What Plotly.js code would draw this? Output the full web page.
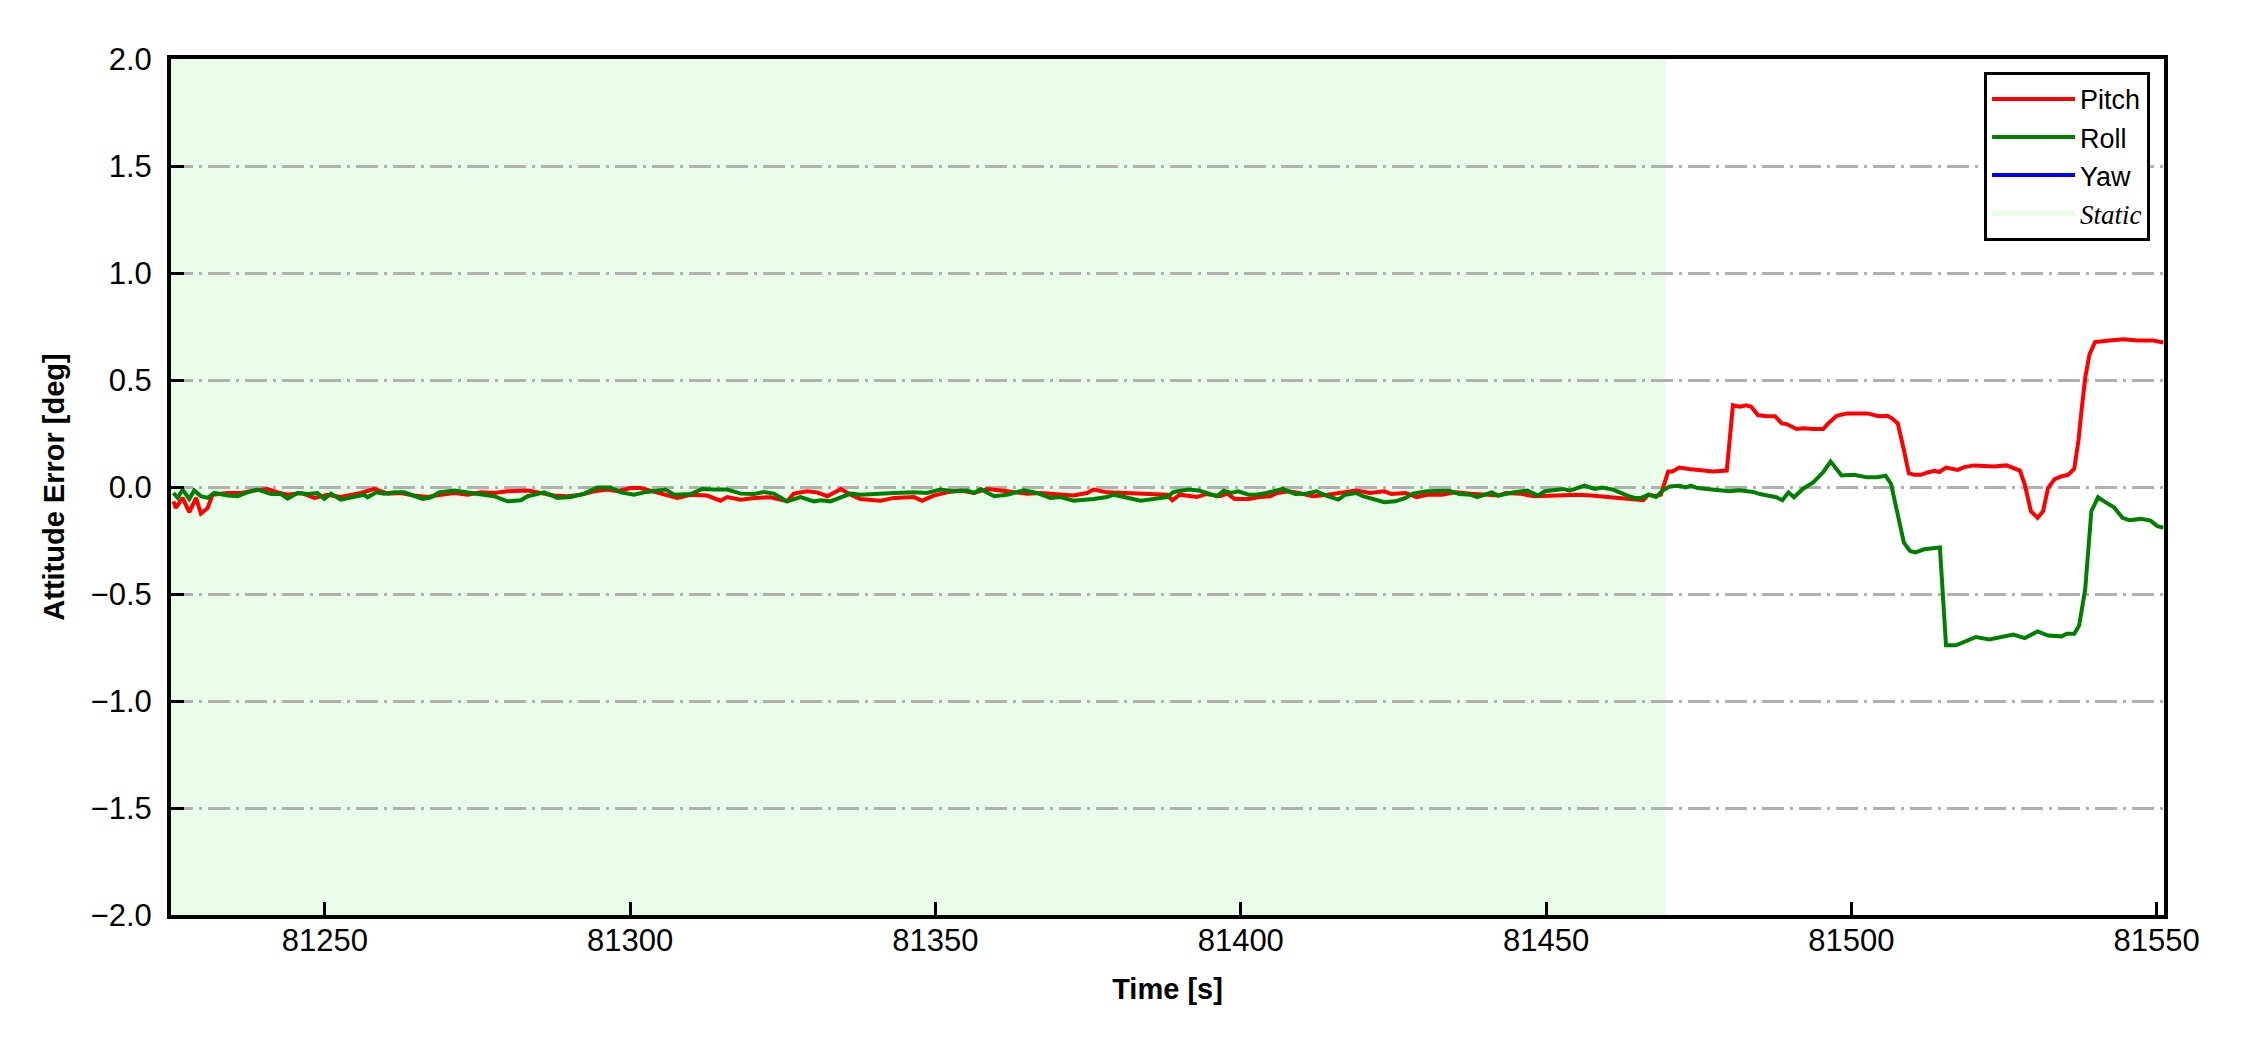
<!DOCTYPE html>
<html>
<head>
<meta charset="utf-8">
<script src="https://cdn.plot.ly/plotly-3.0.1.min.js"></script>
<style>html,body{margin:0;padding:0;background:#fff;}#chart{width:2250px;height:1050px;}</style>
</head>
<body>
<div id="chart"></div>
<script>
// ---- data ----
const pitchTime = [81225.2,81225.6,81226.7,81227.8,81228.9,81229.7,81230.8,81231.6,81234.1,81236.3,81238.4,81240.6,81242.3,81243.9,81246.1,81248.3,81250.4,81252.6,81255.9,81258.1,81260.3,81262.4,81264.6,81266.8,81269.0,81271.2,81273.4,81275.5,81277.7,81279.9,81283.2,81285.4,81287.5,81289.7,81291.9,81294.1,81296.3,81297.9,81300.1,81301.7,
81304.4,81307.7,81309.9,81312.6,81314.8,81315.9,81318.1,81320.3,81323.0,81325.7,81326.8,81329.0,81330.6,81332.3,81334.5,81336.1,81337.7,81341.0,81343.2,81346.5,81347.8,81349.7,81351.9,81354.1,81356.3,81358.5,81360.7,81362.8,81365.0,81367.2,81369.4,81372.6,81374.8,81375.9,81378.1,81380.3,
81382.6,81386.1,81387.9,81388.8,81390.0,81392.8,81394.3,81396.6,81397.8,81399.0,81401.3,81403.1,81404.8,81406.0,81407.8,81409.5,81411.8,81414.2,81416.5,81418.9,81421.2,81423.5,81424.7,81427.0,81428.8,81430.5,81432.9,81435.2,81437.6,81439.9,81442.2,81443.4,81445.7,81448.1,81450.4,81452.8,81455.1,81457.4,81459.8,81462.1,81464.4,81465.9,81466.8,81468.0,81468.8,
81470.0,81470.7,81471.8,81473.4,81475.1,81477.3,81479.6,81480.6,81481.7,81482.8,81483.6,81484.7,81486.1,81487.5,81488.6,81489.4,81491.0,81492.1,81493.8,81495.4,81496.2,81497.6,81499.3,81500.9,81502.6,81504.5,81505.9,81506.7,81507.6,81508.6,81509.4,81510.3,81511.4,81512.5,81513.6,81514.4,81515.5,81517.4,81518.5,81520.1,81522.3,81523.4,81525.4,81526.5,81527.6,81528.4,81529.4,81530.5,81531.4,81532.2,81533.3,81534.4,81535.5,81536.5,81537.2,81537.7,81538.3,81539.0,81539.9,81542.2,81544.6,81546.9,81549.3,81551.1];
const pitchError = [-0.067,-0.098,-0.051,-0.118,-0.051,-0.124,-0.098,-0.036,-0.028,-0.028,-0.016,-0.009,-0.025,-0.036,-0.028,-0.051,-0.036,-0.047,-0.028,-0.009,-0.031,-0.028,-0.040,-0.047,-0.036,-0.028,-0.036,-0.025,-0.028,-0.020,-0.016,-0.028,-0.040,-0.043,-0.036,-0.020,-0.012,-0.020,-0.005,-0.005,
-0.025,-0.051,-0.036,-0.040,-0.064,-0.047,-0.059,-0.051,-0.048,-0.067,-0.031,-0.020,-0.025,-0.043,-0.009,-0.036,-0.056,-0.064,-0.051,-0.047,-0.064,-0.040,-0.025,-0.016,-0.028,-0.009,-0.016,-0.025,-0.031,-0.028,-0.033,-0.040,-0.028,-0.012,-0.025,-0.028,
-0.031,-0.036,-0.036,-0.062,-0.036,-0.047,-0.033,-0.043,-0.031,-0.056,-0.056,-0.047,-0.043,-0.028,-0.020,-0.028,-0.043,-0.036,-0.028,-0.016,-0.028,-0.020,-0.033,-0.028,-0.047,-0.036,-0.036,-0.025,-0.031,-0.036,-0.040,-0.028,-0.031,-0.043,-0.040,-0.036,-0.036,-0.040,-0.047,-0.051,-0.059,-0.062,-0.036,-0.043,-0.036,
0.073,0.073,0.091,0.084,0.080,0.073,0.077,0.382,0.375,0.382,0.375,0.336,0.331,0.331,0.297,0.294,0.271,0.274,0.271,0.271,0.297,0.333,0.344,0.344,0.344,0.331,0.333,0.320,0.297,0.173,0.065,0.057,0.057,0.068,0.076,0.070,0.091,0.080,0.093,0.101,0.096,0.096,0.101,0.088,0.077,0.011,-0.113,-0.144,-0.113,-0.005,0.037,0.050,0.057,0.085,0.220,0.360,0.511,0.620,0.677,0.685,0.690,0.685,0.685,0.675];

const rollTime = [81225.2,81225.9,81226.7,81227.8,81228.6,81229.7,81230.8,81231.9,81234.1,81235.7,81237.3,81239.0,81241.2,81242.8,81243.9,81245.5,81247.2,81248.8,81249.9,81251.0,81252.6,81254.8,81256.4,81257.0,81258.4,81259.7,81261.4,81263.0,81264.6,81266.0,81267.4,81268.7,81271.2,81273.4,81275.5,81277.7,81279.9,81282.1,81283.2,81285.9,81288.1,81290.3,81292.5,81294.6,81296.8,81298.5,81300.6,81302.3,
81305.8,81307.2,81309.9,81311.8,81313.7,81315.9,81318.1,81320.3,81321.9,81323.5,81325.7,81327.9,81330.1,81331.2,81332.8,81334.5,81336.1,81337.7,81339.9,81343.2,81346.5,81348.6,81350.8,81353.0,81355.2,81356.3,81357.4,81359.6,81361.7,81364.5,81366.6,81368.8,81370.5,81372.6,81375.9,81378.1,81379.2,81381.4,81383.6,
81385.0,81386.1,81387.9,81389.0,81391.4,81393.1,81396.1,81397.2,81398.4,81399.6,81401.3,81402.5,81404.2,81406.9,81408.9,81410.7,81412.4,81414.2,81416.0,81417.1,81418.9,81420.0,81423.5,81425.3,81427.0,81428.2,81430.5,81434.1,81435.8,81437.6,81438.7,81441.1,81442.2,81444.6,81446.9,81448.7,81449.8,81452.8,81453.9,81456.3,81458.0,81459.2,81461.0,81463.3,81464.5,81465.6,81466.8,81468.0,81469.1,81470.3,
81471.8,81472.9,81473.7,81474.8,81476.2,81478.4,81480.0,81481.7,81483.9,81485.0,81487.7,81488.7,81489.7,81490.6,81492.1,81493.8,81495.4,81496.6,81498.4,81500.4,81502.6,81504.2,81505.6,81506.5,81508.6,81509.6,81510.5,81511.9,81513.6,81514.5,81515.5,81517.1,81518.5,81520.4,81522.6,81524.5,81526.5,81528.4,81530.5,81532.2,81534.4,81535.3,81536.5,81537.3,81538.3,81539.3,81540.4,81541.4,81543.0,81544.4,81545.5,81547.4,81549.0,81550.1,81551.1];
const rollError = [-0.028,-0.051,-0.012,-0.056,-0.016,-0.043,-0.051,-0.028,-0.040,-0.043,-0.025,-0.012,-0.033,-0.033,-0.054,-0.028,-0.033,-0.028,-0.056,-0.031,-0.059,-0.043,-0.036,-0.048,-0.025,-0.031,-0.025,-0.025,-0.043,-0.056,-0.048,-0.025,-0.017,-0.025,-0.033,-0.043,-0.067,-0.062,-0.043,-0.025,-0.051,-0.047,-0.031,-0.002,-0.002,-0.025,-0.036,-0.025,
-0.012,-0.036,-0.033,-0.009,-0.012,-0.012,-0.031,-0.033,-0.023,-0.031,-0.067,-0.047,-0.067,-0.062,-0.067,-0.047,-0.031,-0.036,-0.031,-0.028,-0.025,-0.028,-0.012,-0.020,-0.016,-0.028,-0.009,-0.043,-0.036,-0.016,-0.028,-0.051,-0.047,-0.064,-0.056,-0.047,-0.036,-0.051,-0.064,
-0.059,-0.056,-0.047,-0.023,-0.012,-0.016,-0.043,-0.017,-0.028,-0.020,-0.036,-0.036,-0.028,-0.009,-0.033,-0.031,-0.020,-0.043,-0.059,-0.036,-0.028,-0.043,-0.071,-0.067,-0.051,-0.031,-0.020,-0.017,-0.033,-0.036,-0.047,-0.025,-0.040,-0.025,-0.017,-0.040,-0.020,-0.009,-0.017,0.006,-0.009,-0.002,-0.012,-0.040,-0.051,-0.051,-0.036,-0.047,-0.016,0.003,
0.006,-0.002,0.006,-0.005,-0.009,-0.012,-0.020,-0.015,-0.023,-0.033,-0.048,-0.062,-0.025,-0.048,-0.008,0.023,0.070,0.119,0.054,0.057,0.045,0.046,0.053,0.014,-0.260,-0.299,-0.306,-0.291,-0.283,-0.283,-0.740,-0.740,-0.724,-0.701,-0.712,-0.701,-0.690,-0.706,-0.675,-0.694,-0.698,-0.686,-0.686,-0.647,-0.477,-0.113,-0.048,-0.067,-0.095,-0.144,-0.155,-0.149,-0.157,-0.183,-0.190];

const yawTime = [null];   // yaw error has no visible samples in the plotted range
const yawError = [null];

const staticStart = 81224.8;
const staticEnd = 81469.6;

const xRange = [81224.8, 81551.2];
const yRange = [-2, 2];
const xTicks = [81250, 81300, 81350, 81400, 81450, 81500, 81550];
const yTicks = [-2.0, -1.5, -1.0, -0.5, 0.0, 0.5, 1.0, 1.5, 2.0];

const seriesNames = ['Pitch', 'Roll', 'Yaw', 'Static'];
const seriesColors = ['#ff0000', '#008000', '#0000ff', '#e9fce9'];

// ---- chart ----
const FONT = 'Liberation Sans, Arial, sans-serif';
const traces = [
  {x: pitchTime, y: pitchError, type: 'scatter', mode: 'lines', name: seriesNames[0],
   line: {color: seriesColors[0], width: 4}},
  {x: rollTime, y: rollError, type: 'scatter', mode: 'lines', name: seriesNames[1],
   line: {color: seriesColors[1], width: 4}},
  {x: yawTime, y: yawError, type: 'scatter', mode: 'lines', name: seriesNames[2],
   line: {color: seriesColors[2], width: 4}},
  {x: [null], y: [null], type: 'scatter', mode: 'none', fill: 'toself',
   fillcolor: seriesColors[3], line: {width: 0},
   name: '<i><span style="font-family:Liberation Serif, Times New Roman, serif">' + seriesNames[3] + '</span></i>'}
];

const layout = {
  width: 2250, height: 1050,
  margin: {l: 171, r: 86, t: 59, b: 135},
  paper_bgcolor: '#ffffff', plot_bgcolor: '#ffffff',
  font: {family: FONT, size: 31, color: '#000'},
  showlegend: true,
  legend: {
    x: 0.993, xanchor: 'right', y: 0.985, yanchor: 'top',
    bgcolor: '#ffffff', bordercolor: '#000', borderwidth: 3,
    font: {family: FONT, size: 27, color: '#000'},
    itemwidth: 83, tracegroupgap: 0
  },
  xaxis: {
    range: xRange, tickvals: xTicks, tickformat: 'd',
    showgrid: false, zeroline: false,
    showline: true, mirror: true, linecolor: '#000', linewidth: 4,
    ticks: 'inside', ticklen: 13, tickwidth: 3, tickcolor: '#000',
    tickfont: {family: FONT, size: 31, color: '#000'},
    ticklabelstandoff: -5,
    title: {text: 'Time [s]', font: {family: FONT, size: 29, color: '#000', weight: 'bold'}, standoff: 22}
  },
  yaxis: {
    range: yRange, tickvals: yTicks, tickformat: '.1f',
    showgrid: true, gridcolor: '#b0b0b0', gridwidth: 3, griddash: '22px,6px,3px,6px',
    zeroline: false,
    showline: true, mirror: true, linecolor: '#000', linewidth: 4,
    ticks: 'inside', ticklen: 13, tickwidth: 3, tickcolor: '#000',
    tickfont: {family: FONT, size: 31, color: '#000'},
    ticklabelstandoff: 9,
    title: {text: 'Attitude Error [deg]', font: {family: FONT, size: 29, color: '#000', weight: 'bold'}, standoff: 18}
  },
  shapes: [{
    type: 'rect', xref: 'x', yref: 'paper', x0: staticStart, x1: staticEnd, y0: 0, y1: 1,
    fillcolor: seriesColors[3], line: {width: 0}, layer: 'below'
  }]
};

Plotly.newPlot('chart', traces, layout, {displayModeBar: false, staticPlot: true});
</script>
</body>
</html>
